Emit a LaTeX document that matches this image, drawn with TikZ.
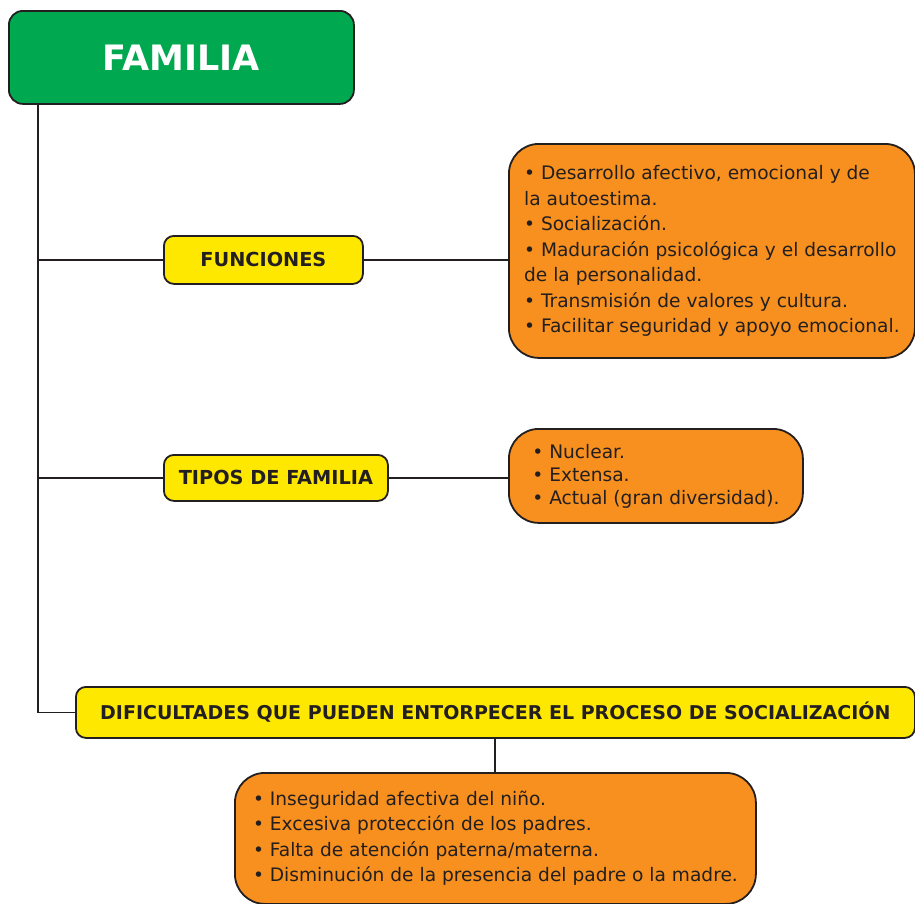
\documentclass[tikz,border=0pt]{standalone}
\usepackage{fontspec}
\setmainfont{DejaVu Sans}
\usetikzlibrary{positioning}
\definecolor{famgreen}{HTML}{00A94F}
\definecolor{labyellow}{HTML}{FFE800}
\definecolor{listorange}{HTML}{F7901E}
\definecolor{inkgray}{HTML}{231F20}
\begin{document}
\begin{tikzpicture}[x=1pt,y=-1pt,line width=1.8pt,draw=inkgray,
  headbox/.style={rectangle,draw,fill=famgreen,rounded corners=14pt,text=white,font=\fontsize{35}{40}\selectfont\bfseries},
  labbox/.style={rectangle,draw,fill=labyellow,rounded corners=10pt,text=inkgray,font=\fontsize{19.3}{22}\selectfont\bfseries},
  listbox/.style={rectangle,draw,fill=listorange,rounded corners=30pt,text=inkgray,align=left,font=\fontsize{18.6}{25.5}\selectfont}]
\useasboundingbox (0,0) rectangle (915,903);

\node [headbox,minimum width=345,minimum height=93,anchor=north west] (familia) at (8,10) {FAMILIA};

\node [labbox,minimum width=199,minimum height=48,anchor=north west] (fun) at (163,235) {FUNCIONES};
\node [listbox,minimum width=406,minimum height=214,anchor=north west] (funlist) at (508,143)
  {• Desarrollo afectivo, emocional y de\\la autoestima.\\• Socialización.\\• Maduración psicológica y el desarrollo\\de la personalidad.\\• Transmisión de valores y cultura.\\• Facilitar seguridad y apoyo emocional.};

\node [labbox,minimum width=224,minimum height=46,anchor=north west] (tipos) at (163,454) {TIPOS DE FAMILIA};
\node [listbox,minimum width=294,minimum height=94,anchor=north west,font=\fontsize{18.6}{23}\selectfont] (tiposlist) at (508,428)
  {• Nuclear.\\• Extensa.\\• Actual (gran diversidad).};

\node [labbox,minimum width=839,minimum height=51,anchor=north west,font=\fontsize{19}{22}\selectfont\bfseries] (dif) at (75,686) {DIFICULTADES QUE PUEDEN ENTORPECER EL PROCESO DE SOCIALIZACIÓN};
\node [listbox,minimum width=521,minimum height=131,anchor=north west] (diflist) at (234,772)
  {• Inseguridad afectiva del niño.\\• Excesiva protección de los padres.\\• Falta de atención paterna/materna.\\• Disminución de la presencia del padre o la madre.};

% tronco
\coordinate (trunk) at (38,103);
\draw (trunk) |- (dif.west);
\draw (fun.west) -- (fun.west -| trunk);
\draw (tipos.west) -- (tipos.west -| trunk);
\draw (fun.east) -- (fun.east -| funlist.west);
\draw (tipos.east) -- (tipos.east -| tiposlist.west);
\draw (dif.south -| 495,0) -- (diflist.north -| 495,0);
\end{tikzpicture}
\end{document}
